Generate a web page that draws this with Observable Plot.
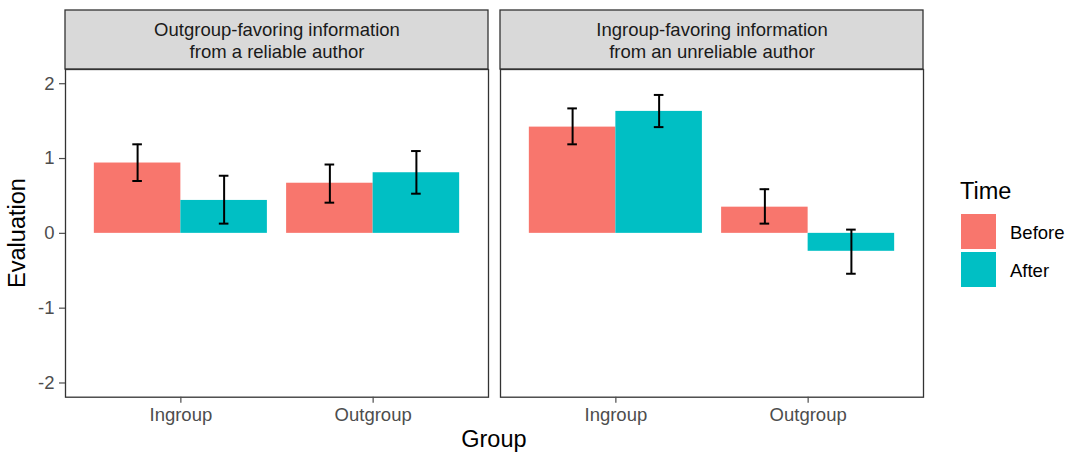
<!DOCTYPE html>
<html>
<head>
<meta charset="utf-8">
<script src="https://cdn.jsdelivr.net/npm/d3@7"></script>
<script src="https://cdn.jsdelivr.net/npm/@observablehq/plot@0.6"></script>
<style>
  html, body { margin: 0; padding: 0; background: #fff; overflow: hidden; }
  #wrap { position: relative; width: 1075px; height: 453px; overflow: hidden;
          font-family: "Liberation Sans", Arial, sans-serif; }
  #wrap svg { display: block; }
  .lg-title { position: absolute; font-size: 23.5px; color: #000; line-height: 1; }
  .lg-key { position: absolute; width: 35px; height: 35px; }
  .lg-label { position: absolute; font-size: 18.5px; color: #000; line-height: 1; }
</style>
</head>
<body>
<div id="wrap"></div>
<script>
// ---- data ----
const panels = [
  "Outgroup-favoring information\nfrom a reliable author",
  "Ingroup-favoring information\nfrom an unreliable author"
];
const groups = ["Ingroup", "Outgroup"];
const times = ["Before", "After"];
// order: Ingroup-Before, Ingroup-After, Outgroup-Before, Outgroup-After
const reliableMean  = [0.94, 0.44, 0.67, 0.81];
const reliableLower = [0.70, 0.13, 0.41, 0.53];
const reliableUpper = [1.19, 0.77, 0.92, 1.10];
const unreliableMean  = [1.42, 1.63, 0.35, -0.24];
const unreliableLower = [1.19, 1.42, 0.13, -0.54];
const unreliableUpper = [1.67, 1.85, 0.59, 0.05];
const yTicks = [-2, -1, 0, 1, 2];
const timeColors = ["#F8766D", "#00BFC4"];

// ---- table ----
const series = [
  [reliableMean, reliableLower, reliableUpper],
  [unreliableMean, unreliableLower, unreliableUpper]
];
const dodge = 0.9;
const capHalf = 0.025;
const rows = [];
panels.forEach((panel, pi) => {
  const [m, lo, hi] = series[pi];
  groups.forEach((group, gi) => {
    times.forEach((time, ti) => {
      const k = gi * times.length + ti;
      const w = dodge / times.length;
      const xc = (gi + 1) - dodge / 2 + w * (ti + 0.5);
      rows.push({panel, group, time, mean: m[k], lo: lo[k], hi: hi[k],
                 xc, x1: xc - w / 2, x2: xc + w / 2});
    });
  });
});

const W = 1075, H = 470;
const plot = Plot.plot({
  width: W, height: H,
  marginLeft: 64.3, marginRight: 151.5, marginTop: 69, marginBottom: 73.3,
  style: {fontFamily: "Liberation Sans, Arial, sans-serif", fontSize: "18.5px", background: "white", overflow: "visible"},
  fx: {domain: panels, paddingInner: 0.0285, paddingOuter: 0, axis: null},
  x: {domain: [0.4, 2.6], axis: null},
  y: {domain: [-2.19, 2.19], axis: null},
  color: {domain: times, range: timeColors},
  marks: [
    Plot.rect(rows, {fx: "panel", x1: "x1", x2: "x2", y1: 0, y2: "mean", fill: "time"}),
    Plot.ruleX(rows, {fx: "panel", x: "xc", y1: "lo", y2: "hi", stroke: "black", strokeWidth: 2}),
    Plot.ruleY(rows, {fx: "panel", y: "lo", x1: d => d.xc - capHalf, x2: d => d.xc + capHalf, stroke: "black", strokeWidth: 2}),
    Plot.ruleY(rows, {fx: "panel", y: "hi", x1: d => d.xc - capHalf, x2: d => d.xc + capHalf, stroke: "black", strokeWidth: 2}),
    Plot.frame({stroke: "#333333", strokeWidth: 1.3}),
    Plot.axisY({ticks: yTicks, tickFormat: d => `${d}`, tickSize: 6, tickPadding: 5, label: null, color: "#4D4D4D", strokeWidth: 1.2}),
    Plot.axisX({ticks: [1, 2], tickFormat: d => groups[d - 1], tickSize: 6, tickPadding: 5, label: null, color: "#4D4D4D", strokeWidth: 1.2}),
    Plot.text(panels, {fx: d => d, text: d => d, frameAnchor: "top", dy: -29.5, lineAnchor: "middle", lineHeight: 1.17, fill: "#1A1A1A"})
  ]
});

// strip backgrounds and axis titles, positioned with the plot's own scales
const fx = plot.scale("fx");
const svg = d3.select(plot);
const strips = svg.insert("g", "g");
panels.forEach(p => {
  strips.append("rect")
    .attr("x", fx.apply(p)).attr("width", fx.bandwidth)
    .attr("y", 10).attr("height", 59)
    .attr("fill", "#D9D9D9").attr("stroke", "#333333").attr("stroke-width", 1.3);
});
const xMid = (fx.range[0] + fx.range[1]) / 2;
svg.append("text").text("Group")
  .attr("x", xMid).attr("y", 447).attr("text-anchor", "middle")
  .attr("font-size", 23.5).attr("fill", "#000");
svg.append("text").text("Evaluation")
  .attr("transform", "translate(25,233) rotate(-90)").attr("text-anchor", "middle")
  .attr("font-size", 23.5).attr("fill", "#000");

const wrap = document.getElementById("wrap");
wrap.appendChild(plot);

// legend
const color = plot.scale("color");
const t = document.createElement("div");
t.className = "lg-title"; t.textContent = "Time";
t.style.left = "960px"; t.style.top = "180px";
wrap.appendChild(t);
times.forEach((time, i) => {
  const k = document.createElement("div");
  k.className = "lg-key";
  k.style.left = "961px"; k.style.top = (214 + i * 37.5) + "px";
  k.style.background = color.apply(time);
  wrap.appendChild(k);
  const l = document.createElement("div");
  l.className = "lg-label"; l.textContent = time;
  l.style.left = "1010px"; l.style.top = (224 + i * 37.5) + "px";
  wrap.appendChild(l);
});
</script>
</body>
</html>
